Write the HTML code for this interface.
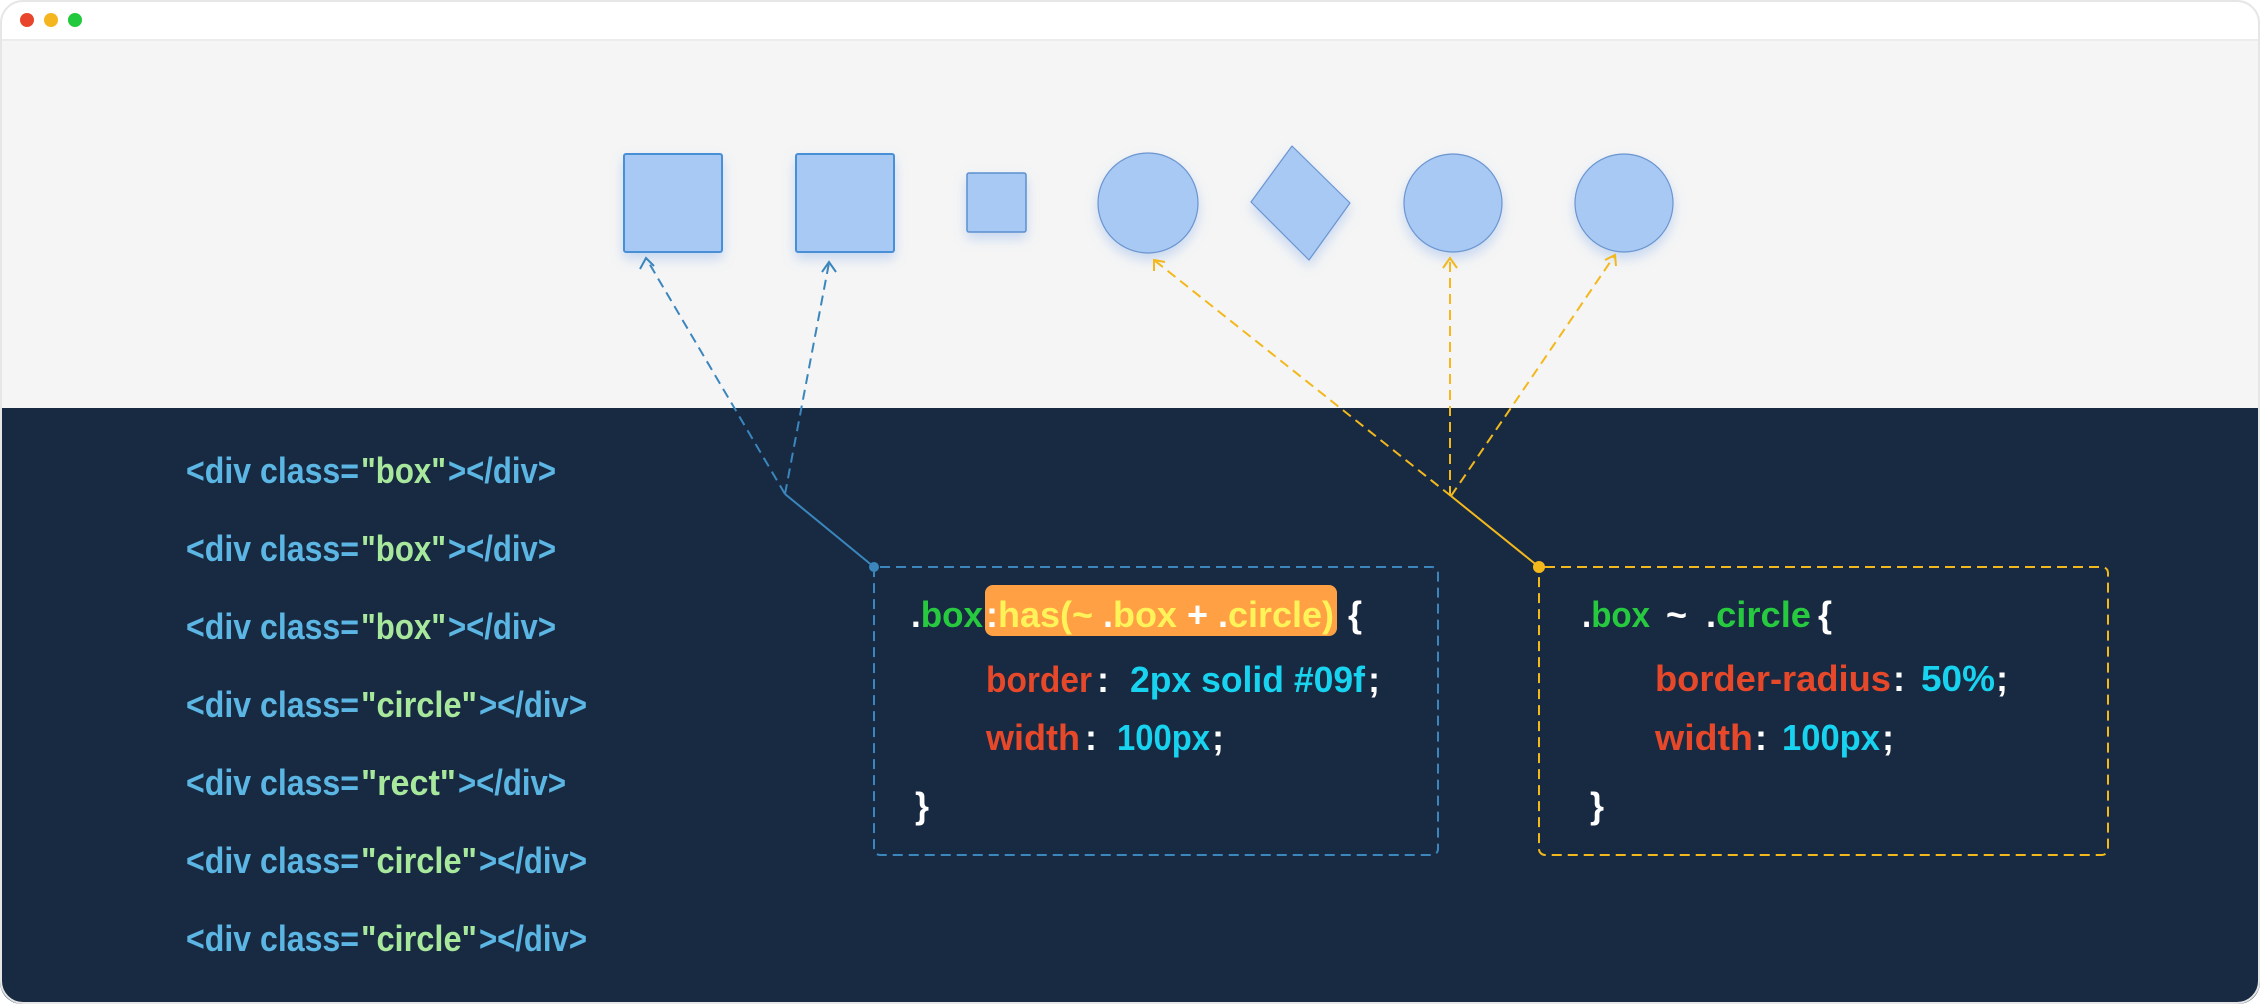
<!DOCTYPE html>
<html><head><meta charset="utf-8"><style>
html,body{margin:0;padding:0;background:#fff;}
svg{display:block;}
text{font-family:"Liberation Sans Narrow","Liberation Sans",sans-serif;font-weight:bold;}
</style></head><body>
<svg width="2260" height="1004" viewBox="0 0 2260 1004" xmlns="http://www.w3.org/2000/svg">
<defs>
<clipPath id="win"><rect x="0" y="0" width="2260" height="1004" rx="22"/></clipPath>
<filter id="sh" x="-30%" y="-30%" width="160%" height="170%"><feDropShadow dx="0" dy="6" stdDeviation="6" flood-color="#6fa0e8" flood-opacity="0.35"/></filter>
</defs>
<g clip-path="url(#win)">
<rect x="0" y="0" width="2260" height="1004" fill="#ffffff"/>
<rect x="0" y="40" width="2260" height="368" fill="#f5f5f5"/>
<line x1="0" y1="40" x2="2260" y2="40" stroke="#ececec" stroke-width="2"/>
<rect x="0" y="408" width="2260" height="596" fill="#172a42"/>
</g>
<rect x="1" y="1" width="2258" height="1002" rx="22" fill="none" stroke="#e6e6e6" stroke-width="2"/>
<circle cx="27" cy="20" r="7" fill="#e8452c"/>
<circle cx="51" cy="20" r="7" fill="#f5b51e"/>
<circle cx="75" cy="20" r="7" fill="#22c93c"/>

<g filter="url(#sh)">
<rect x="624" y="154" width="98" height="98" rx="2" fill="#a8c9f3" stroke="#4a8fd6" stroke-width="2"/>
<rect x="796" y="154" width="98" height="98" rx="2" fill="#a8c9f3" stroke="#4a8fd6" stroke-width="2"/>
<rect x="967" y="173" width="59" height="59" rx="2" fill="#a8c9f3" stroke="#5b8fd0" stroke-width="1.5"/>
<circle cx="1148" cy="203" r="50" fill="#a8c9f3" stroke="#6b95d0" stroke-width="1.2"/>
<path d="M1292,146 L1350,203 L1309,260 L1251,202 Z" stroke-linejoin="round" fill="#a8c9f3" stroke="#6b95d0" stroke-width="1.2"/>
<circle cx="1453" cy="203" r="49" fill="#a8c9f3" stroke="#6b95d0" stroke-width="1.2"/>
<circle cx="1624" cy="203" r="49" fill="#a8c9f3" stroke="#6b95d0" stroke-width="1.2"/>
</g>

<g stroke="#3a86bd" stroke-width="2" fill="none">
<line x1="785" y1="494" x2="646" y2="258" stroke-dasharray="10 6"/>
<line x1="785" y1="494" x2="829" y2="263" stroke-dasharray="10 6"/>
<polyline points="640,269 646,258 654,266"/>
<polyline points="822,272 829,262 836,272"/>
<line x1="785" y1="494" x2="874" y2="567"/>
<rect x="874" y="567" width="564" height="288" rx="6" stroke-dasharray="10 6"/>
</g>
<circle cx="874" cy="567" r="5" fill="#3a86bd"/>

<g stroke="#f2b81c" stroke-width="2" fill="none">
<line x1="1451" y1="496" x2="1154" y2="260" stroke-dasharray="10 6"/>
<line x1="1450" y1="496" x2="1450" y2="258" stroke-dasharray="10 6"/>
<line x1="1451" y1="496" x2="1615" y2="255" stroke-dasharray="10 6"/>
<polyline points="1154,271 1154,260 1165,262"/>
<polyline points="1443,268 1450,258 1457,268"/>
<polyline points="1605,260 1615,255 1616,266"/>
<line x1="1451" y1="496" x2="1539" y2="567"/>
<rect x="1539" y="567" width="569" height="288" rx="6" stroke-dasharray="10 6"/>
</g>
<circle cx="1539" cy="567" r="6" fill="#f2b81c"/>

<g font-size="36">
<text x="186" y="483" fill="#5cb6e4" textLength="173" lengthAdjust="spacingAndGlyphs">&lt;div class=</text><text x="361" y="483" fill="#a8e89c" textLength="85" lengthAdjust="spacingAndGlyphs">"box"</text><text x="448" y="483" fill="#5cb6e4" textLength="108" lengthAdjust="spacingAndGlyphs">&gt;&lt;/div&gt;</text>
<text x="186" y="561" fill="#5cb6e4" textLength="173" lengthAdjust="spacingAndGlyphs">&lt;div class=</text><text x="361" y="561" fill="#a8e89c" textLength="85" lengthAdjust="spacingAndGlyphs">"box"</text><text x="448" y="561" fill="#5cb6e4" textLength="108" lengthAdjust="spacingAndGlyphs">&gt;&lt;/div&gt;</text>
<text x="186" y="639" fill="#5cb6e4" textLength="173" lengthAdjust="spacingAndGlyphs">&lt;div class=</text><text x="361" y="639" fill="#a8e89c" textLength="85" lengthAdjust="spacingAndGlyphs">"box"</text><text x="448" y="639" fill="#5cb6e4" textLength="108" lengthAdjust="spacingAndGlyphs">&gt;&lt;/div&gt;</text>
<text x="186" y="717" fill="#5cb6e4" textLength="173" lengthAdjust="spacingAndGlyphs">&lt;div class=</text><text x="361" y="717" fill="#a8e89c" textLength="116" lengthAdjust="spacingAndGlyphs">"circle"</text><text x="479" y="717" fill="#5cb6e4" textLength="108" lengthAdjust="spacingAndGlyphs">&gt;&lt;/div&gt;</text>
<text x="186" y="795" fill="#5cb6e4" textLength="173" lengthAdjust="spacingAndGlyphs">&lt;div class=</text><text x="361" y="795" fill="#a8e89c" textLength="95" lengthAdjust="spacingAndGlyphs">"rect"</text><text x="458" y="795" fill="#5cb6e4" textLength="108" lengthAdjust="spacingAndGlyphs">&gt;&lt;/div&gt;</text>
<text x="186" y="873" fill="#5cb6e4" textLength="173" lengthAdjust="spacingAndGlyphs">&lt;div class=</text><text x="361" y="873" fill="#a8e89c" textLength="116" lengthAdjust="spacingAndGlyphs">"circle"</text><text x="479" y="873" fill="#5cb6e4" textLength="108" lengthAdjust="spacingAndGlyphs">&gt;&lt;/div&gt;</text>
<text x="186" y="951" fill="#5cb6e4" textLength="173" lengthAdjust="spacingAndGlyphs">&lt;div class=</text><text x="361" y="951" fill="#a8e89c" textLength="116" lengthAdjust="spacingAndGlyphs">"circle"</text><text x="479" y="951" fill="#5cb6e4" textLength="108" lengthAdjust="spacingAndGlyphs">&gt;&lt;/div&gt;</text>
</g>

<rect x="985" y="585" width="352" height="51" rx="8" fill="#ffa045"/>
<g font-size="36">
<text x="911" y="627" textLength="72" lengthAdjust="spacingAndGlyphs"><tspan fill="#fff">.</tspan><tspan fill="#27c93f">box</tspan></text>
<text x="986" y="627" textLength="348" lengthAdjust="spacingAndGlyphs" fill="#fff35a"><tspan fill="#fff">:</tspan>has(~ <tspan fill="#fff">.</tspan>box  <tspan fill="#fff">+</tspan>  <tspan fill="#fff">.</tspan>circle)</text>
<text x="1348" y="627" fill="#fff">{</text>
<text x="986" y="692" fill="#e8482a" textLength="106" lengthAdjust="spacingAndGlyphs">border</text>
<text x="1097" y="692" fill="#fff">:</text>
<text x="1130" y="692" fill="#18d3ef" textLength="235" lengthAdjust="spacingAndGlyphs">2px solid #09f</text>
<text x="1368" y="692" fill="#fff">;</text>
<text x="986" y="750" fill="#e8482a" textLength="94" lengthAdjust="spacingAndGlyphs">width</text>
<text x="1085" y="750" fill="#fff">:</text>
<text x="1117" y="750" fill="#18d3ef" textLength="93" lengthAdjust="spacingAndGlyphs">100px</text>
<text x="1212" y="750" fill="#fff">;</text>
<text x="915" y="818" fill="#fff">}</text>
</g>

<g font-size="36">
<text x="1582" y="627" textLength="68" lengthAdjust="spacingAndGlyphs"><tspan fill="#fff">.</tspan><tspan fill="#27c93f">box</tspan></text>
<text x="1666" y="627" fill="#fff">~</text>
<text x="1706" y="627" textLength="105" lengthAdjust="spacingAndGlyphs"><tspan fill="#fff">.</tspan><tspan fill="#27c93f">circle</tspan></text>
<text x="1818" y="627" fill="#fff">{</text>
<text x="1655" y="691" fill="#e8482a" textLength="236" lengthAdjust="spacingAndGlyphs">border-radius</text>
<text x="1893" y="691" fill="#fff">:</text>
<text x="1921" y="691" fill="#18d3ef" textLength="74" lengthAdjust="spacingAndGlyphs">50%</text>
<text x="1996" y="691" fill="#fff">;</text>
<text x="1655" y="750" fill="#e8482a" textLength="98" lengthAdjust="spacingAndGlyphs">width</text>
<text x="1755" y="750" fill="#fff">:</text>
<text x="1782" y="750" fill="#18d3ef" textLength="98" lengthAdjust="spacingAndGlyphs">100px</text>
<text x="1882" y="750" fill="#fff">;</text>
<text x="1590" y="818" fill="#fff">}</text>
</g>
</svg>
</body></html>
